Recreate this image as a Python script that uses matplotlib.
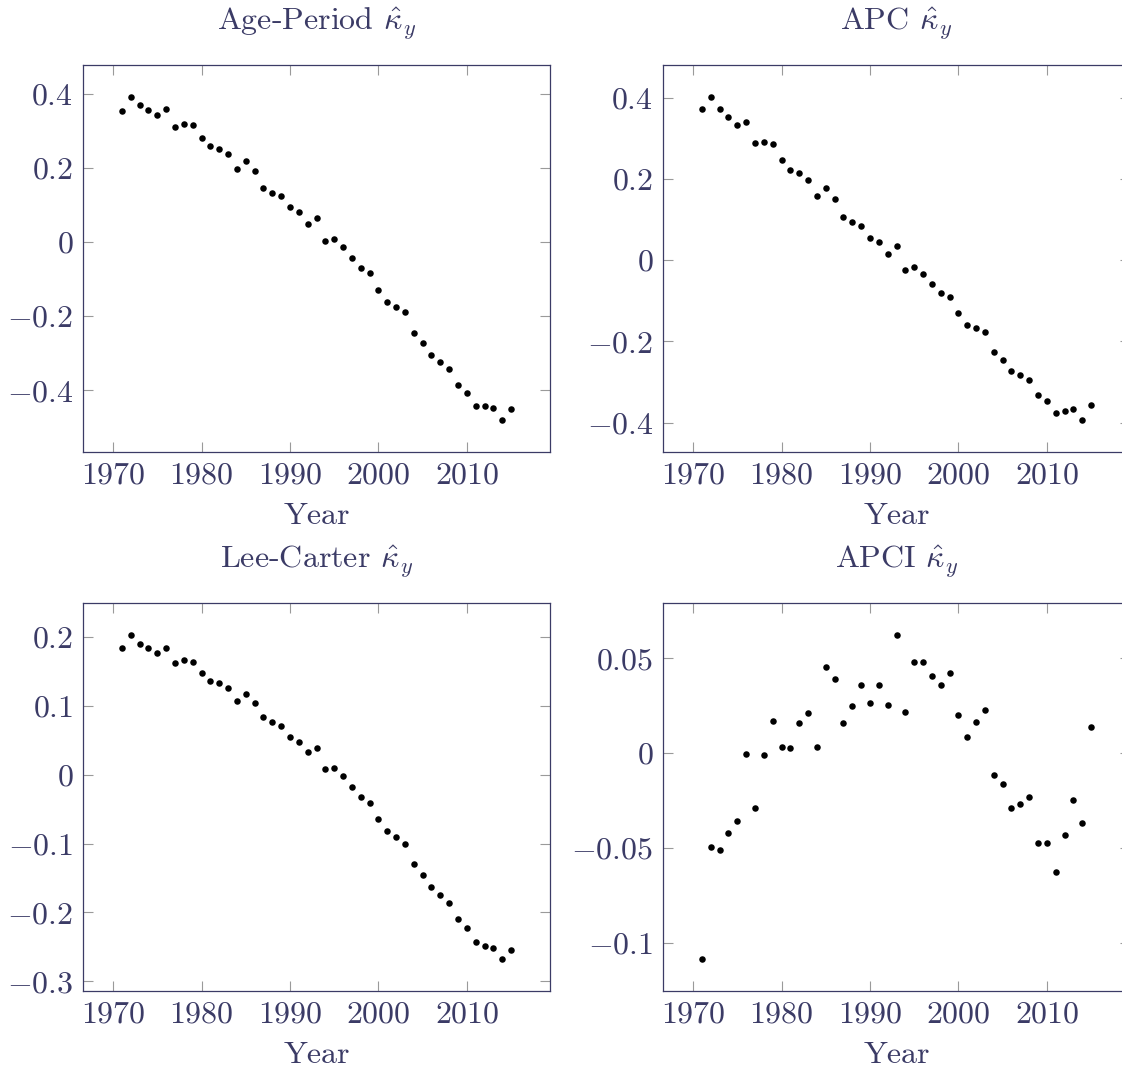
import numpy as np
import matplotlib
matplotlib.use("Agg")
import matplotlib.pyplot as plt
from matplotlib.ticker import MultipleLocator, FuncFormatter

# ---------- DATA ----------
years = list(range(1971, 2016))

kappa_age_period = [
    0.352, 0.390, 0.368, 0.356, 0.343, 0.358, 0.309, 0.317, 0.314, 0.279,
    0.258, 0.251, 0.236, 0.197, 0.218, 0.190, 0.146, 0.133, 0.123, 0.093,
    0.081, 0.049, 0.065, 0.003, 0.007, -0.014, -0.044, -0.070, -0.084, -0.129,
    -0.161, -0.175, -0.190, -0.245, -0.271, -0.305, -0.324, -0.341, -0.386, -0.407,
    -0.443, -0.443, -0.447, -0.479, -0.449,
]

kappa_apc = [
    0.371, 0.401, 0.371, 0.352, 0.332, 0.341, 0.288, 0.291, 0.285, 0.247,
    0.223, 0.214, 0.197, 0.157, 0.177, 0.150, 0.106, 0.094, 0.085, 0.055,
    0.045, 0.016, 0.034, -0.025, -0.017, -0.034, -0.059, -0.082, -0.092, -0.131,
    -0.159, -0.166, -0.176, -0.225, -0.245, -0.272, -0.284, -0.295, -0.333, -0.347,
    -0.377, -0.371, -0.367, -0.393, -0.357,
]

kappa_lee_carter = [
    0.184, 0.202, 0.190, 0.184, 0.177, 0.184, 0.162, 0.166, 0.164, 0.148,
    0.136, 0.133, 0.126, 0.107, 0.117, 0.104, 0.084, 0.076, 0.070, 0.055,
    0.048, 0.033, 0.039, 0.008, 0.009, -0.002, -0.018, -0.032, -0.041, -0.064,
    -0.082, -0.091, -0.101, -0.129, -0.145, -0.163, -0.175, -0.186, -0.210, -0.222,
    -0.243, -0.248, -0.251, -0.267, -0.255,
]

kappa_apci = [
    -0.1084, -0.0495, -0.0509, -0.0423, -0.0360, -0.0002, -0.0289, -0.0011, 0.0171, 0.0032,
    0.0026, 0.0160, 0.0213, 0.0035, 0.0455, 0.0391, 0.0162, 0.0247, 0.0361, 0.0264,
    0.0358, 0.0252, 0.0622, 0.0219, 0.0483, 0.0483, 0.0405, 0.0360, 0.0423, 0.0201,
    0.0083, 0.0167, 0.0229, -0.0113, -0.0160, -0.0289, -0.0270, -0.0229, -0.0474, -0.0474,
    -0.0629, -0.0432, -0.0249, -0.0367, 0.0136,
]

titles = ["Age-Period", "APC", "Lee-Carter", "APCI"]
series = [kappa_age_period, kappa_apc, kappa_lee_carter, kappa_apci]
y_steps = [0.2, 0.2, 0.1, 0.05]
x_ticks = [1970, 1980, 1990, 2000, 2010]

# ---------- STYLE ----------
TEXT = "#3b3b66"
FRAME = "#3b3b66"
TICK = "#9a9a9a"
FS = 23

plt.rcParams["font.family"] = ["cmr10", "DejaVu Serif"]
plt.rcParams["mathtext.fontset"] = "cm"
plt.rcParams["axes.formatter.use_mathtext"] = True

W, H = 1122, 1070
fig = plt.figure(figsize=(W / 100, H / 100), dpi=100)

# axes boxes in pixels: left, top, width, height
boxes = [
    (83, 65, 467, 387),
    (663, 65, 467, 387),
    (83, 603, 467, 388),
    (663, 603, 467, 388),
]


def math_fmt(v, pos):
    return "$%g$" % round(v, 6)


for (l, t, w, h), name, vals, step in zip(boxes, titles, series, y_steps):
    ax = fig.add_axes([l / W, 1 - (t + h) / H, w / W, h / H])
    ax.scatter(years, vals, s=22, color="black", linewidths=0, zorder=3)
    ax.margins(x=0.1, y=0.1)

    ax.set_xticks(x_ticks)
    ax.yaxis.set_major_locator(MultipleLocator(step))
    ax.xaxis.set_major_formatter(FuncFormatter(math_fmt))
    ax.yaxis.set_major_formatter(FuncFormatter(math_fmt))

    ax.tick_params(which="both", direction="in", top=True, right=True,
                   length=7.5, width=0.8, color=TICK, labelcolor=TEXT,
                   labelsize=FS, pad=7)
    for sp in ax.spines.values():
        sp.set_color(FRAME)
        sp.set_linewidth(0.9)

    ax.set_title(name + r" $\hat{\kappa}_y$", fontsize=FS, color=TEXT, pad=25)
    ax.set_xlabel("Year", fontsize=FS, color=TEXT, labelpad=10)

fig.savefig("out.png", dpi=100, facecolor="white")
